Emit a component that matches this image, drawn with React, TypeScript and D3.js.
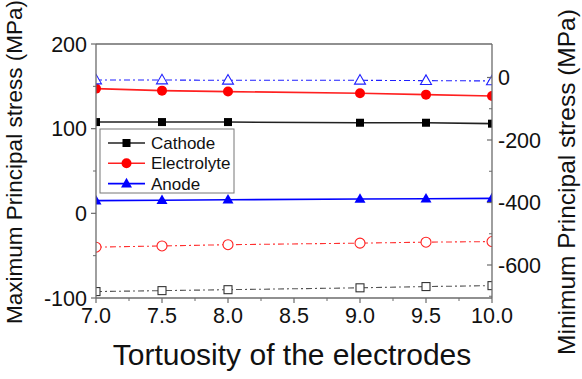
import React from "react";
import * as d3 from "d3";

const tortuosity = [7.0, 7.5, 8.0, 9.0, 9.5, 10.0];
// Maximum principal stress (left axis, MPa)
const cathodeMax = [107.8, 107.8, 107.8, 107, 107, 105.9];
const electrolyteMax = [147.3, 144.9, 143.8, 141.8, 140.2, 138.5];
const anodeMax = [15, 15.5, 16, 17, 17.3, 17.7];
// Minimum principal stress (right axis, MPa)
const cathodeMin = [-685, -682, -679, -673, -669, -666];
const electrolyteMin = [-543, -539, -535, -530, -527, -525];
const anodeMin = [-8, -8, -9, -9, -10, -11];

const xTicks = [7.0, 7.5, 8.0, 8.5, 9.0, 9.5, 10.0];
const xMinorTicks = [7.25, 7.75, 8.25, 8.75, 9.25, 9.75];
const leftTicks = [200, 100, 0, -100];
const leftMinorTicks = [150, 50, -50];
const rightTicks = [0, -200, -400, -600];
const rightMinorTicks = [-100, -300, -500, -700];
const legendLabels = ["Cathode", "Electrolyte", "Anode"];

const W = 582, H = 379;
const L = 96, R = 492, T = 44, B = 298;
const FONT = "'Liberation Sans', Arial, sans-serif";
const AX = "#6b6b6b";

type Shape = "square" | "circle" | "triangle";

function Marker({ x, y, shape, color, filled }: { x: number; y: number; shape: Shape; color: string; filled: boolean }) {
  const fill = filled ? color : "white";
  const sw = filled ? 0 : 1.1;
  if (shape === "square") {
    const s = 8;
    return <rect x={x - s / 2} y={y - s / 2} width={s} height={s} fill={fill} stroke={color} strokeWidth={sw} />;
  }
  if (shape === "circle") {
    return <circle cx={x} cy={y} r={5} fill={fill} stroke={color} strokeWidth={sw} />;
  }
  const s = 11;
  const h = s * 0.87;
  const pts = `${x},${y - h * 0.6} ${x - s / 2},${y + h * 0.4} ${x + s / 2},${y + h * 0.4}`;
  return <polygon points={pts} fill={fill} stroke={color} strokeWidth={sw} />;
}

export default function App() {
  const x = d3.scaleLinear().domain([7, 10]).range([L, R]);
  const yL = d3.scaleLinear().domain([-100, 200]).range([B, T]);
  const yR = d3.scaleLinear().domain([-705.6, 107.2]).range([B, T]);

  const series = [
    { vals: cathodeMax, scale: yL, color: "#000000", line: "#222", shape: "square" as Shape, filled: true },
    { vals: electrolyteMax, scale: yL, color: "#ff0000", line: "#ff2020", shape: "circle" as Shape, filled: true },
    { vals: anodeMax, scale: yL, color: "#0000ff", line: "#0000ff", shape: "triangle" as Shape, filled: true },
    { vals: cathodeMin, scale: yR, color: "#333333", line: "#555", shape: "square" as Shape, filled: false },
    { vals: electrolyteMin, scale: yR, color: "#ff2020", line: "#ff3030", shape: "circle" as Shape, filled: false },
    { vals: anodeMin, scale: yR, color: "#2020ff", line: "#2020ff", shape: "triangle" as Shape, filled: false },
  ];

  return (
    <svg width={W} height={H} style={{ position: "absolute", left: 0, top: 0, background: "white" }} fontFamily={FONT}>
      <defs>
        <clipPath id="plotclip">
          <rect x={L} y={T} width={R - L} height={B - T} />
        </clipPath>
      </defs>
      <rect x={0} y={0} width={W} height={H} fill="white" />

      {/* data */}
      <g clipPath="url(#plotclip)">
        {series.map((s, i) => {
          const line = d3
            .line<number>()
            .x((_, j) => x(tortuosity[j]))
            .y((v) => s.scale(v));
          return (
            <g key={i}>
              <path
                d={line(s.vals) || ""}
                fill="none"
                stroke={s.line}
                strokeWidth={s.filled ? 1.6 : 1.1}
                strokeDasharray={s.filled ? undefined : "6,3,2,3"}
              />
              {s.vals.map((v, j) => (
                <Marker key={j} x={x(tortuosity[j])} y={s.scale(v)} shape={s.shape} color={s.color} filled={s.filled} />
              ))}
            </g>
          );
        })}
      </g>

      {/* frame */}
      <line x1={L} x2={R} y1={T} y2={T} stroke={AX} strokeWidth={1.3} />
      <line x1={L} x2={L} y1={T} y2={B} stroke={AX} strokeWidth={1.3} />
      <line x1={R} x2={R} y1={T} y2={B} stroke={AX} strokeWidth={1.3} />
      <line x1={L} x2={R} y1={B} y2={B} stroke={AX} strokeWidth={1.3} />

      {/* x axis */}
      {xTicks.map((t) => (
        <g key={t}>
          <line x1={x(t)} x2={x(t)} y1={B} y2={B + 5} stroke={AX} strokeWidth={1.2} />
          <text x={x(t)} y={B + 25} textAnchor="middle" fontSize={21.5} fill="#111">
            {t.toFixed(1)}
          </text>
        </g>
      ))}
      {xMinorTicks.map((t) => (
        <line key={t} x1={x(t)} x2={x(t)} y1={B} y2={B + 3} stroke={AX} strokeWidth={1} />
      ))}

      {/* left axis */}
      {leftTicks.map((t) => (
        <g key={t}>
          <line x1={L - 5} x2={L} y1={yL(t)} y2={yL(t)} stroke={AX} strokeWidth={1.2} />
          <text x={L - 9} y={yL(t) + 7.5} textAnchor="end" fontSize={21.5} fill="#111">
            {t}
          </text>
        </g>
      ))}
      {leftMinorTicks.map((t) => (
        <line key={t} x1={L - 3} x2={L} y1={yL(t)} y2={yL(t)} stroke={AX} strokeWidth={1} />
      ))}

      {/* right axis */}
      {rightTicks.map((t) => (
        <g key={t}>
          <line x1={R - 5} x2={R} y1={yR(t)} y2={yR(t)} stroke={AX} strokeWidth={1.2} />
          <text x={R + 6} y={yR(t) + 7.5} textAnchor="start" fontSize={21.5} fill="#111">
            {t}
          </text>
        </g>
      ))}
      {rightMinorTicks.map((t) => (
        <line key={t} x1={R - 3} x2={R} y1={yR(t)} y2={yR(t)} stroke={AX} strokeWidth={1} />
      ))}

      {/* axis titles */}
      <text x={(L + R) / 2 - 2} y={365} textAnchor="middle" fontSize={30} fill="#111">
        Tortuosity of the electrodes
      </text>
      <text
        transform={`translate(22, 162) rotate(-90)`}
        textAnchor="middle"
        fontSize={22.5}
        fill="#111"
      >
        Maximum Principal stress (MPa)
      </text>
      <text
        transform={`translate(575, 182) rotate(-90)`}
        textAnchor="middle"
        fontSize={24.5}
        fill="#111"
      >
        Minimum Principal stress (MPa)
      </text>

      {/* legend */}
      <rect x={100} y={129} width={134} height={64} fill="white" stroke="#777" strokeWidth={1} />
      {legendLabels.map((lab, i) => {
        const s = series[i];
        const ly = 143 + i * 20.3;
        return (
          <g key={lab}>
            <line x1={108} x2={145} y1={ly} y2={ly} stroke={s.line} strokeWidth={1.6} />
            <Marker x={126.5} y={ly} shape={s.shape} color={s.color} filled />
            <text x={151} y={ly + 6} fontSize={17} fill="#111">
              {lab}
            </text>
          </g>
        );
      })}
    </svg>
  );
}
